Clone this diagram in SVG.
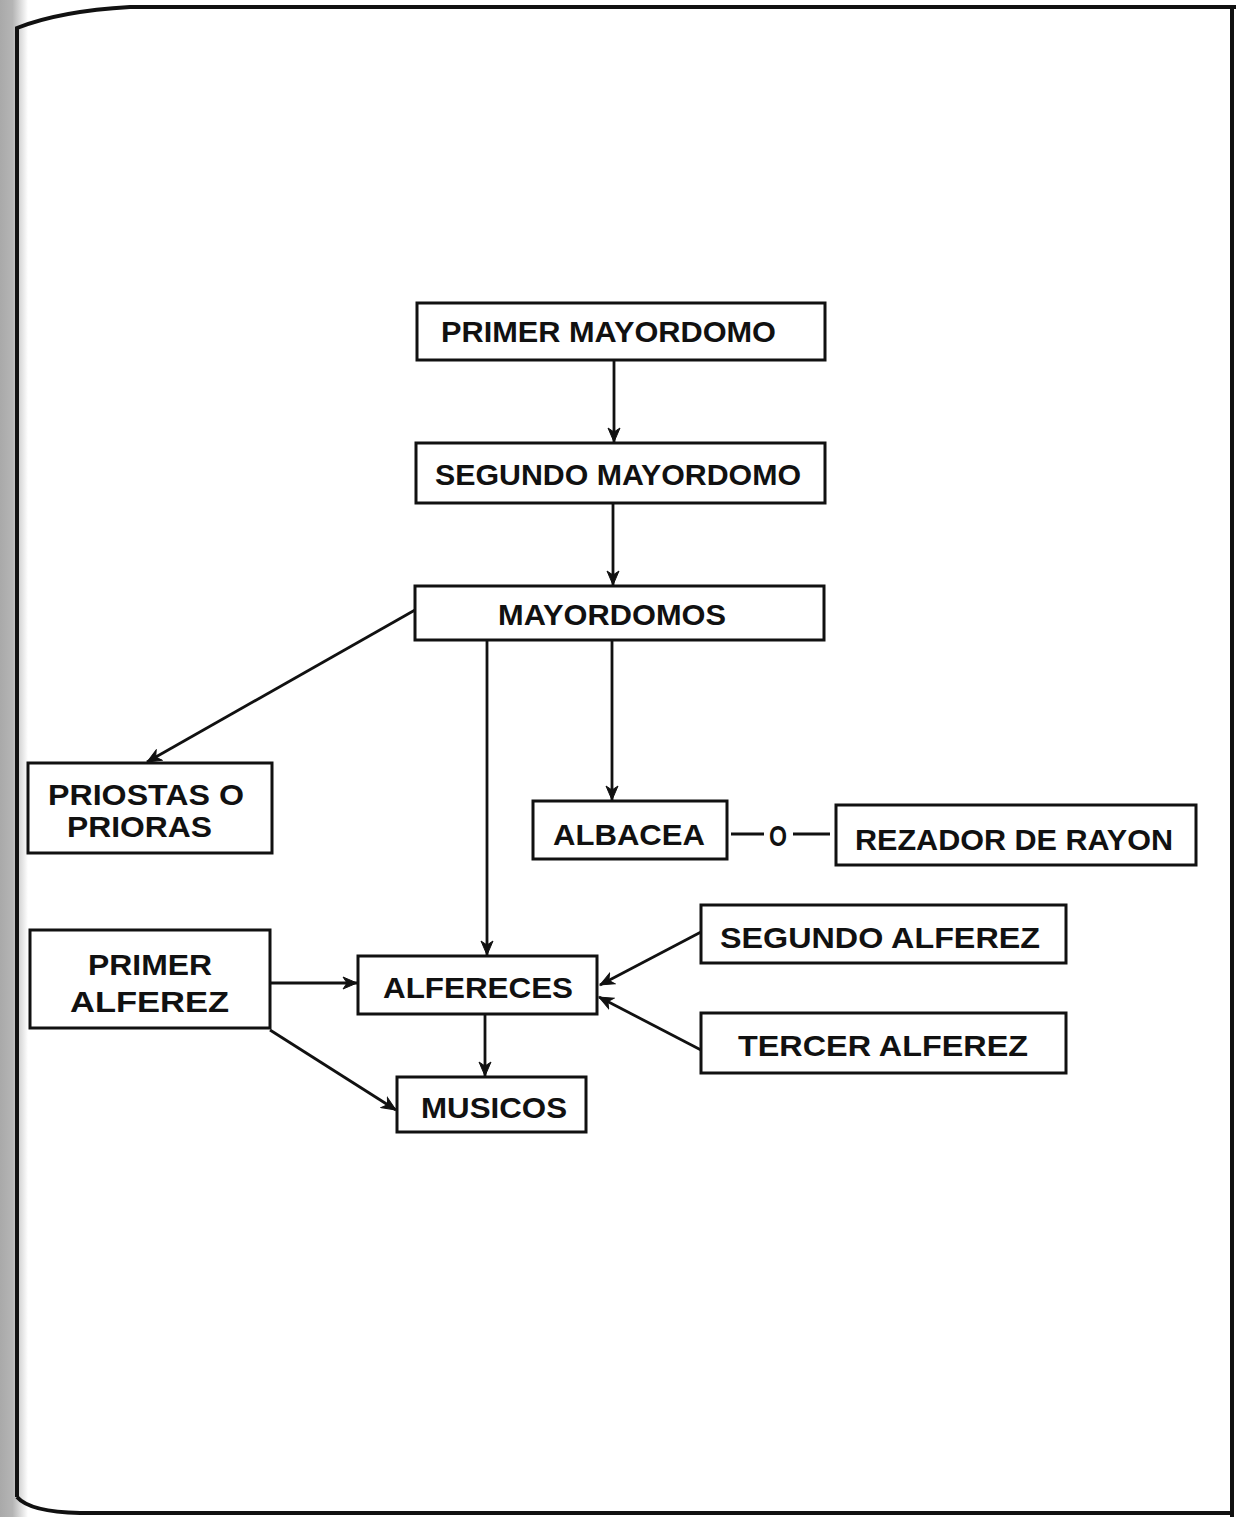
<svg xmlns="http://www.w3.org/2000/svg" width="1236" height="1517" viewBox="0 0 1236 1517">
<style>
.box{fill:#fff;stroke:#111;stroke-width:3}
.lbl{font-family:"Liberation Sans",Arial,sans-serif;font-weight:bold;font-size:30px;fill:#111}
.edge{fill:none;stroke:#111;stroke-width:2.8}
</style>
<defs>
<linearGradient id="scan" x1="0" y1="0" x2="1" y2="0">
<stop offset="0" stop-color="#a9a9a9"/>
<stop offset="0.45" stop-color="#b5b5b5"/>
<stop offset="1" stop-color="#ffffff"/>
</linearGradient>
<marker id="ah" viewBox="0 0 16 14" refX="15" refY="7" markerWidth="16" markerHeight="14" markerUnits="userSpaceOnUse" orient="auto">
<path d="M1,1 L15,7 L1,13 L5,7 z" fill="#111" stroke="#111" stroke-width="1"/>
</marker>
</defs>
<rect width="1236" height="1517" fill="#fff"/>
<rect x="0" y="0" width="28" height="1517" fill="url(#scan)"/>
<path id="frame" d="M17,1497 L17,28 Q60,11 130,7 L1236,7 M1232,7 L1232,1517 M17,1497 Q30,1512 80,1513 L1232,1513" fill="none" stroke="#111" stroke-width="4"/>

<g id="connectors">
<line class="edge" x1="614" y1="360" x2="614" y2="442" marker-end="url(#ah)"/>
<line class="edge" x1="613" y1="503" x2="613" y2="585" marker-end="url(#ah)"/>
<line class="edge" x1="415" y1="610" x2="147" y2="762" marker-end="url(#ah)"/>
<line class="edge" x1="487" y1="640" x2="487" y2="955" marker-end="url(#ah)"/>
<line class="edge" x1="612" y1="640" x2="612" y2="800" marker-end="url(#ah)"/>
<line class="edge" x1="270" y1="983" x2="357" y2="983" marker-end="url(#ah)"/>
<line class="edge" x1="270" y1="1030" x2="396" y2="1110" marker-end="url(#ah)"/>
<line class="edge" x1="485" y1="1014" x2="485" y2="1076" marker-end="url(#ah)"/>
<line class="edge" x1="701" y1="932" x2="600" y2="985" marker-end="url(#ah)"/>
<line class="edge" x1="701" y1="1050" x2="599" y2="997" marker-end="url(#ah)"/>
<line class="edge" x1="731" y1="834" x2="764" y2="834"/>
<line class="edge" x1="793" y1="834" x2="830" y2="834"/>
<text class="lbl" x="778" y="846" text-anchor="middle" font-size="30" textLength="18" lengthAdjust="spacingAndGlyphs">O</text>
</g>

<g id="primer-mayordomo">
<rect class="box" x="417" y="303" width="408" height="57"/>
<text class="lbl" x="441" y="342" textLength="335" lengthAdjust="spacingAndGlyphs">PRIMER MAYORDOMO</text>
</g>
<g id="segundo-mayordomo">
<rect class="box" x="416" y="443" width="409" height="60"/>
<text class="lbl" x="435" y="485" textLength="366" lengthAdjust="spacingAndGlyphs">SEGUNDO  MAYORDOMO</text>
</g>
<g id="mayordomos">
<rect class="box" x="415" y="586" width="409" height="54"/>
<text class="lbl" x="498" y="625" textLength="228" lengthAdjust="spacingAndGlyphs">MAYORDOMOS</text>
</g>
<g id="priostas">
<rect class="box" x="28" y="763" width="244" height="90"/>
<text class="lbl" x="48" y="805" textLength="196" lengthAdjust="spacingAndGlyphs">PRIOSTAS O</text>
<text class="lbl" x="67" y="837" textLength="145" lengthAdjust="spacingAndGlyphs">PRIORAS</text>
</g>
<g id="albacea">
<rect class="box" x="533" y="801" width="194" height="58"/>
<text class="lbl" x="553" y="845" textLength="152" lengthAdjust="spacingAndGlyphs">ALBACEA</text>
</g>
<g id="rezador">
<rect class="box" x="836" y="805" width="360" height="60"/>
<text class="lbl" x="855" y="850" textLength="318" lengthAdjust="spacingAndGlyphs">REZADOR DE RAYON</text>
</g>
<g id="segundo-alferez">
<rect class="box" x="701" y="905" width="365" height="58"/>
<text class="lbl" x="720" y="948" textLength="320" lengthAdjust="spacingAndGlyphs">SEGUNDO ALFEREZ</text>
</g>
<g id="tercer-alferez">
<rect class="box" x="701" y="1013" width="365" height="60"/>
<text class="lbl" x="738" y="1056" textLength="290" lengthAdjust="spacingAndGlyphs">TERCER ALFEREZ</text>
</g>
<g id="primer-alferez">
<rect class="box" x="30" y="930" width="240" height="98"/>
<text class="lbl" x="88" y="975" textLength="124" lengthAdjust="spacingAndGlyphs">PRIMER</text>
<text class="lbl" x="70" y="1012" textLength="159" lengthAdjust="spacingAndGlyphs">ALFEREZ</text>
</g>
<g id="alfereces">
<rect class="box" x="358" y="956" width="239" height="58"/>
<text class="lbl" x="383" y="998" textLength="190" lengthAdjust="spacingAndGlyphs">ALFERECES</text>
</g>
<g id="musicos">
<rect class="box" x="397" y="1077" width="189" height="55"/>
<text class="lbl" x="421" y="1118" textLength="146" lengthAdjust="spacingAndGlyphs">MUSICOS</text>
</g>
</svg>
